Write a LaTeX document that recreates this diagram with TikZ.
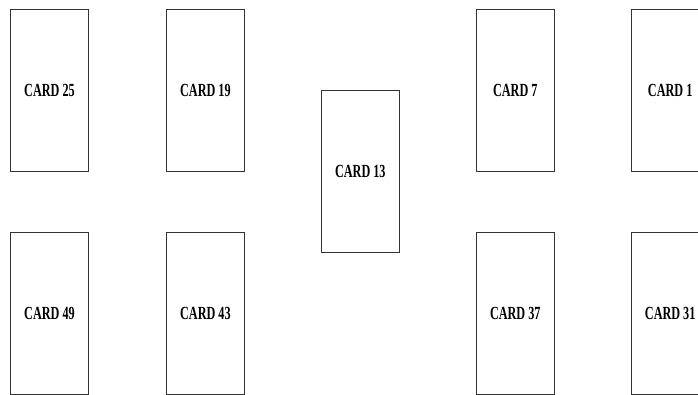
\documentclass[tikz,border=0pt]{standalone}
\usepackage{fontspec}
\setmainfont{Liberation Serif}
\newfontfamily\cardfont[FakeStretch=0.66]{Liberation Serif}
\usetikzlibrary{positioning,calc}
\tikzset{
    % Upright playing-card boxes
    card/.style={
        rectangle,
        draw=black!80,
        line width=0.9pt,
        fill=white,
        minimum width=78pt,
        minimum height=162pt,
        inner sep=0pt,
        align=center,
        font=\cardfont\bfseries\fontsize{18.5}{22}\selectfont
    }
}
\begin{document}
\begin{tikzpicture}[x=1pt, y=1pt, node distance=77pt and 60pt]
        \clip (0,0) rectangle (698,-394);
        \fill[white] (0,0) rectangle (698,-394);

        % Top row
        \node[card] (card25) at (49.5,-90.5) {CARD 25};
        \node[card, right=77pt of card25] (card19) {CARD 19};
        \node[card, right=231pt of card19] (card7) {CARD 7};
        \node[card, right=76pt of card7] (card1) {CARD 1};

        % Middle card
        \node[card] (card13) at ($(card19)!0.5!(card7)+(0,-81)$) {CARD 13};

        % Bottom row
        \node[card, below=60pt of card25] (card49) {CARD 49};
        \node[card, below=60pt of card19] (card43) {CARD 43};
        \node[card, below=60pt of card7] (card37) {CARD 37};
        \node[card, below=60pt of card1] (card31) {CARD 31};
    \end{tikzpicture}
\end{document}
